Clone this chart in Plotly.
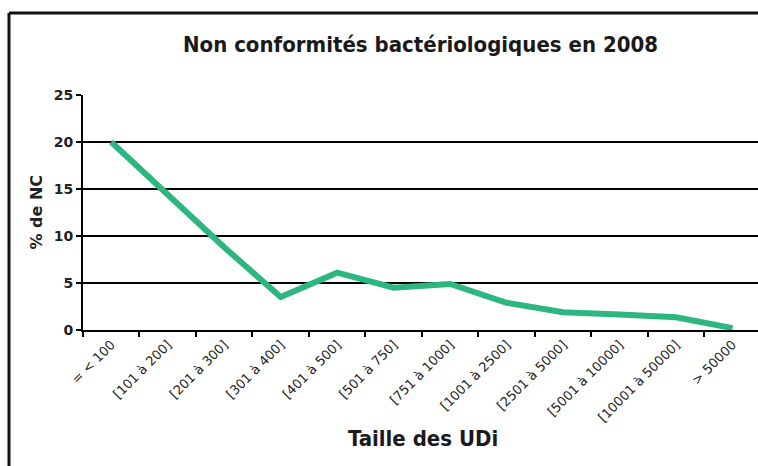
import plotly.graph_objects as go

categories = ["= < 100", "[101 à 200]", "[201 à 300]", "[301 à 400]", "[401 à 500]",
              "[501 à 750]", "[751 à 1000]", "[1001 à 2500]", "[2501 à 5000]",
              "[5001 à 10000]", "[10001 à 50000]", "> 50000"]
pct_nc = [20.0, 14.4, 8.8, 3.5, 6.1, 4.5, 4.9, 2.9, 1.9, 1.65, 1.35, 0.2]
y_ticks = [0, 5, 10, 15, 20, 25]

title_text = "Non conformités bactériologiques en 2008"
x_title = "Taille des UDi"
y_title = "% de NC"

W, H = 758, 466
ml, mr, mt, mb = 83, 0, 95, 136
pw = W - ml - mr
ph = H - mt - mb

def px_to_paper_x(px):
    return (px - ml) / pw

def px_to_paper_y(py):
    return (H - mb - py) / ph

fig = go.Figure()
fig.add_trace(go.Scatter(
    x=categories, y=pct_nc, mode="lines",
    line=dict(color="#2db680", width=6),
    hoverinfo="x+y", showlegend=False,
))

cond = "DejaVu Sans Condensed, Liberation Sans Narrow, Arial Narrow, sans-serif"
verd = "DejaVu Sans, Verdana, sans-serif"

fig.update_layout(
    width=W, height=H,
    margin=dict(l=ml, r=mr, t=mt, b=mb, pad=0),
    paper_bgcolor="white", plot_bgcolor="white",
    showlegend=False,
    xaxis=dict(
        type="category", range=[-0.5, 11.45],
        showline=True, linecolor="black", linewidth=2,
        ticks="outside", tickson="boundaries", ticklen=5, tickwidth=2, tickcolor="black",
        showgrid=False, tickangle=-45,
        tickfont=dict(family=verd, size=13, color="#222"),
        fixedrange=True,
    ),
    yaxis=dict(
        range=[0, 25], tickvals=y_ticks,
        showline=True, linecolor="black", linewidth=2,
        ticks="outside", ticklen=5, tickwidth=2, tickcolor="black",
        showgrid=True, gridcolor="black", gridwidth=2, zeroline=False,
        tickfont=dict(family=verd, size=14, color="#222", weight="bold"),
        fixedrange=True,
    ),
    annotations=[
        dict(text="<b>" + title_text + "</b>", xref="paper", yref="paper",
             x=0.5, y=px_to_paper_y(45), xanchor="center", yanchor="middle",
             showarrow=False, font=dict(family=cond, size=22, color="#1a1a1a")),
        dict(text="<b>" + x_title + "</b>", xref="paper", yref="paper",
             x=px_to_paper_x(423), y=px_to_paper_y(438), xanchor="center", yanchor="middle",
             showarrow=False, font=dict(family=cond, size=22, color="#1a1a1a")),
        dict(text="<b>" + y_title + "</b>", xref="paper", yref="paper",
             x=px_to_paper_x(36), y=0.5, xanchor="center", yanchor="middle", textangle=-90,
             showarrow=False, font=dict(family=verd, size=16, color="#222")),
    ],
    shapes=[
        dict(type="line", xref="paper", yref="paper",
             x0=px_to_paper_x(9), x1=1.0,
             y0=px_to_paper_y(13), y1=px_to_paper_y(13),
             line=dict(color="#111", width=3), layer="above"),
        dict(type="line", xref="paper", yref="paper",
             x0=px_to_paper_x(9), x1=px_to_paper_x(9),
             y0=px_to_paper_y(13), y1=px_to_paper_y(466),
             line=dict(color="#111", width=3), layer="above"),
    ],
)

fig.write_html("out.html", config={"displayModeBar": False},
               post_script="document.body.style.margin='0';document.body.style.overflow='hidden';")
